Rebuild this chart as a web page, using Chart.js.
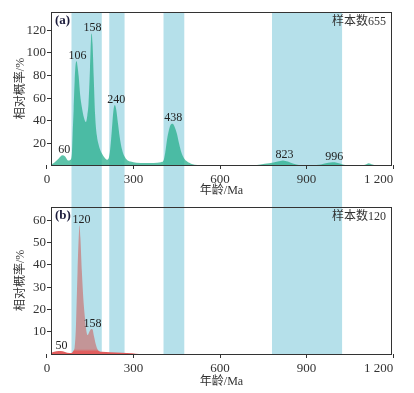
<!DOCTYPE html>
<html lang="zh">
<head>
<meta charset="utf-8">
<title>碎屑锆石年龄分布</title>
<script src="https://cdn.jsdelivr.net/npm/chart.js@4.4.1/dist/chart.umd.min.js"></script>
<style>
    html, body { margin: 0; padding: 0; background: #fff; }
    canvas { display: block; }
</style>
</head>
<body>
<canvas id="chartA" width="414" height="198"></canvas>
<canvas id="chartB" width="414" height="195"></canvas>
<script>
// Age axis (Ma) - shared by both panels
const xMin = 14;
const xMax = 1196;
const xTicks = [0, 300, 600, 900, 1200];
const xTickLabels = ['0', '300', '600', '900', '1 200'];
// blue shaded age windows (Ma)
const bandStarts = [85, 216, 404, 780];
const bandEnds = [190, 269, 476, 1023];

// Panel (a) - 655 grains
const agesA = [14, 25, 40, 54, 63, 73, 81, 86, 89, 92.5, 96, 100, 103, 106, 110, 115, 121, 128, 135, 140,
    144, 149, 153, 155, 158, 162, 167, 173, 179, 185, 191, 200, 208, 214, 219, 225, 230, 235, 240, 246,
    252, 260, 268, 278, 290, 310, 340, 370, 395, 404, 410, 416, 423, 430, 436, 442, 450, 458, 466, 475,
    485, 502, 525, 560, 590, 610, 630, 660, 680, 710, 740, 770, 800, 818, 835, 855, 880, 920, 950, 975,
    990, 1005, 1025, 1050, 1090, 1105, 1115, 1128, 1145, 1196];
const probA = [1.5, 3, 6.5, 9.5, 8.5, 5, 5.5, 10, 28, 50, 75, 91, 92.5, 88, 79, 63, 52, 43, 39, 45,
    55, 85, 114, 117, 108, 79, 45, 27, 19, 14, 11, 7.5, 5.7, 7, 14.5, 32, 48, 54, 50, 38,
    26, 15, 9, 5.5, 4, 3, 2.8, 2.8, 3.5, 5, 12, 23, 32, 37, 37.5, 35, 29, 20, 12, 7,
    4.2, 1.9, 0.9, 0.6, 0.6, 1, 0.6, 0.8, 1, 0.5, 1.5, 2.5, 4, 5, 4, 2, 0.8, 0.6, 1.5, 3,
    3.4, 3, 1.5, 0.5, 0.5, 1.5, 2.6, 1.5, 0.4, 0.3];
const yTicksA = [20, 40, 60, 80, 100, 120];
const peaksA = [60, 106, 158, 240, 438, 823, 996];
const peakHeightsA = [9.5, 92.5, 117, 54, 37.5, 5, 3.4];

// Panel (b) - 120 grains
const agesB = [14, 25, 40, 55, 70, 85, 92, 96, 100, 103, 106, 110, 113, 116, 121, 126, 131, 137, 141, 147,
    154, 158, 163, 170, 177, 190, 220, 260, 295, 320, 1196];
const probB = [0.5, 1, 1.4, 1.2, 0.6, 0.5, 1.5, 3, 11, 24, 37, 52, 57.7, 52, 37, 25, 17, 10, 8.5, 10,
    11.2, 11, 8, 4, 1.7, 1, 0.8, 0.6, 0.3, 0, 0];
const yTicksB = [10, 20, 30, 40, 50, 60];
const peaksB = [50, 120, 158];
const peakHeightsB = [1.4, 57.7, 11.2];

const SERIF = "'Liberation Serif', 'Noto Sans CJK SC', serif";
const INK = '#333';

Chart.defaults.font.family = SERIF;
Chart.defaults.color = INK;

// shaded bands, frame, peak labels and the little panel tags
const decorPlugin = {
    id: 'decor',
    beforeDraw(chart, args, opts) {
        const { ctx, chartArea, scales: { x } } = chart;
        const top = opts.extend === 'up' ? 0 : chartArea.top;
        const bottom = opts.extend === 'down' ? chart.height : chartArea.bottom;
        ctx.save();
        ctx.fillStyle = '#b5e0ea';
        bandStarts.forEach((s, i) => {
            const x1 = x.getPixelForValue(s);
            const x2 = x.getPixelForValue(bandEnds[i]);
            ctx.fillRect(x1, top, x2 - x1, bottom - top);
        });
        ctx.restore();
    },
    afterDraw(chart, args, opts) {
        const { ctx, chartArea: a, scales: { x, y } } = chart;
        ctx.save();
        // box around plot
        ctx.strokeStyle = INK;
        ctx.lineWidth = 1;
        ctx.strokeRect(Math.round(a.left) + 0.5, Math.round(a.top) + 0.5,
            Math.round(a.right - a.left) - 1, Math.round(a.bottom - a.top));

        // peak ages
        ctx.fillStyle = '#222';
        ctx.font = '12px ' + SERIF;
        ctx.textAlign = 'center';
        ctx.textBaseline = 'middle';
        opts.peaks.forEach((age, i) => {
            ctx.fillText(String(age), x.getPixelForValue(age), y.getPixelForValue(opts.heights[i]) - 5.5);
        });

        // (a) / (b)
        ctx.fillStyle = '#1c1c3c';
        ctx.font = 'bold 13px ' + SERIF;
        ctx.textAlign = 'left';
        ctx.fillText(opts.tag, a.left + 4, a.top + 9);

        // sample count
        ctx.fillStyle = INK;
        ctx.font = '12px ' + SERIF;
        ctx.textAlign = 'right';
        ctx.fillText(opts.count, a.right - 6, a.top + 10);
        ctx.restore();
    }
};

function makeXScale() {
    return {
        type: 'linear',
        min: xMin,
        max: xMax,
        afterBuildTicks: (scale) => {
            // blank tick on the left edge, so 'inner' only pushes the 1 200 label inward
            scale.ticks = [{ value: xMin }].concat(xTicks.map(v => ({ value: v })));
        },
        ticks: {
            autoSkip: false,
            maxRotation: 0,
            align: 'inner',
            padding: 3,
            font: { size: 13 },
            callback: (v) => {
                const i = xTicks.indexOf(v);
                return i < 0 ? '' : xTickLabels[i];
            }
        },
        grid: {
            drawOnChartArea: false,
            tickLength: 4,
            color: (c) => (c.tick && xTicks.indexOf(c.tick.value) >= 0) ? INK : 'rgba(0,0,0,0)'
        },
        border: { display: false },
        title: { display: true, text: '年龄/Ma', font: { size: 12 }, padding: { top: 0, bottom: 0 } }
    };
}

function makeYScale(min, max, ticksArr) {
    return {
        min: min,
        max: max,
        afterBuildTicks: (scale) => {
            scale.ticks = ticksArr.map(v => ({ value: v }));
        },
        afterFit: (scale) => { scale.width = 51; },
        ticks: { padding: 1, font: { size: 13 } },
        grid: { drawOnChartArea: false, tickLength: 4, color: INK },
        border: { display: false },
        title: { display: true, text: '相对概率/%', font: { size: 12 }, padding: { top: 14, bottom: 0 } }
    };
}

function buildPanel(id, ages, probs, opts) {
    const x = makeXScale();
    x.afterFit = (scale) => { scale.height = opts.xHeight; };
    x.title.padding.bottom = opts.titlePad;

    return new Chart(document.getElementById(id), {
        type: 'line',
        data: {
            datasets: [{
                data: ages.map((a, i) => ({ x: a, y: probs[i] })),
                fill: 'origin',
                backgroundColor: opts.fillColor,
                borderWidth: 0,
                pointRadius: 0,
                cubicInterpolationMode: 'monotone'
            }]
        },
        options: {
            responsive: false,
            devicePixelRatio: 1,
            animation: false,
            layout: { padding: { left: 0, right: 22, top: opts.padTop, bottom: 0 } },
            scales: {
                x: x,
                y: makeYScale(opts.yMin, opts.yMax, opts.yTicks)
            },
            plugins: {
                legend: { display: false },
                tooltip: { enabled: false },
                decor: {
                    extend: opts.extend,
                    peaks: opts.peaks,
                    heights: opts.heights,
                    tag: opts.tag,
                    count: opts.count
                }
            }
        },
        plugins: [decorPlugin]
    });
}

// bottom panel: red along the baseline, dusty pink higher up
function pinkFill(context) {
    const chart = context.chart;
    const area = chart.chartArea;
    if (!area) return '#c39597';
    const g = chart.ctx.createLinearGradient(0, area.bottom, 0, area.bottom - 5);
    g.addColorStop(0, '#e35a5a');
    g.addColorStop(0.5, '#e06060');
    g.addColorStop(1, '#c39597');
    return g;
}

document.addEventListener('DOMContentLoaded', function() {
    buildPanel('chartA', agesA, probA, {
        fillColor: 'rgba(40, 175, 140, 0.75)',
        padTop: 12, xHeight: 33, titlePad: 0,
        yMin: 1, yMax: 136, yTicks: yTicksA,
        extend: 'down',
        peaks: peaksA, heights: peakHeightsA,
        tag: '(a)', count: '样本数655'
    });

    buildPanel('chartB', agesB, probB, {
        fillColor: pinkFill,
        padTop: 2, xHeight: 39, titlePad: 4,
        yMin: 0, yMax: 66, yTicks: yTicksB,
        extend: 'up',
        peaks: peaksB, heights: peakHeightsB,
        tag: '(b)', count: '样本数120'
    });
});
</script>
</body>
</html>
